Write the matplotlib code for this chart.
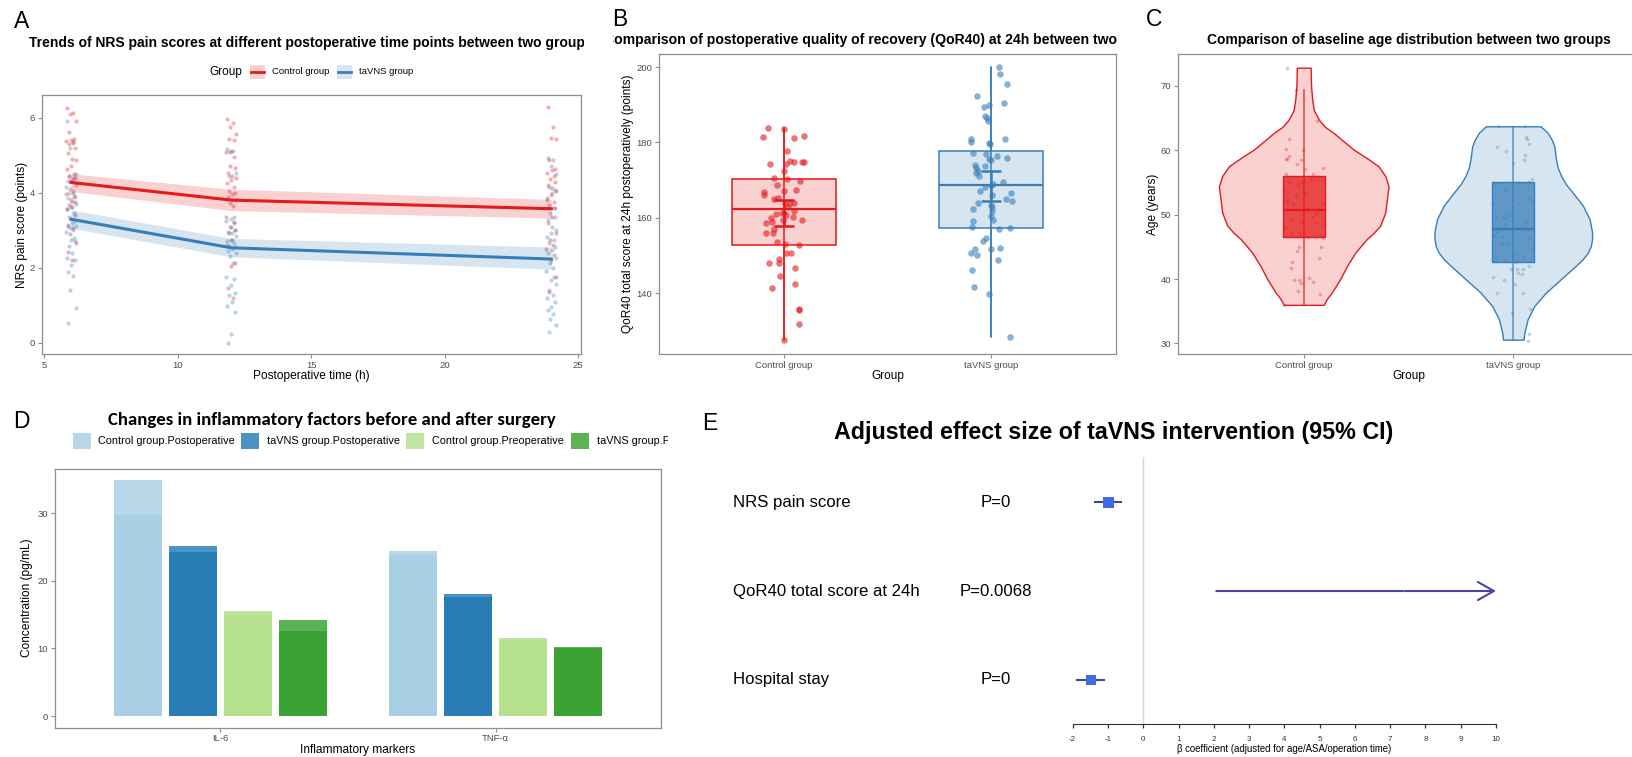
import numpy as np
import matplotlib
matplotlib.use('Agg')
import matplotlib.pyplot as plt
from matplotlib.patches import Rectangle
from matplotlib.colors import to_rgba
from matplotlib.transforms import Bbox, TransformedBbox, blended_transform_factory

W, H = 1632, 757
plt.rcParams['font.family'] = ['Liberation Sans', 'DejaVu Sans']
plt.rcParams['axes.unicode_minus'] = False
CALIB = ['Carlito', 'Lato', 'DejaVu Sans']

RED = '#E41A1C'
BLUE = '#377EB8'
GREY = '#4D4D4D'
groups = ['Control group', 'taVNS group']

# ---------- A: NRS pain score over time
times = [6, 12, 24]
nrs_ctrl_mean = [4.27, 3.80, 3.57]
nrs_ctrl_lo = [4.03, 3.52, 3.32]
nrs_ctrl_hi = [4.50, 4.09, 3.82]
nrs_tav_mean = [3.29, 2.53, 2.23]
nrs_tav_lo = [3.05, 2.29, 1.96]
nrs_tav_hi = [3.54, 2.78, 2.55]

nrs6_ctrl = [6.25, 6.12, 6.10, 5.90, 5.62, 5.42, 5.40, 5.38, 5.35, 5.30, 5.18, 5.05, 4.90, 4.88,
             4.72, 4.62, 4.50, 4.45, 4.40, 4.35, 4.30, 4.20, 4.10, 4.00, 3.95, 3.88, 3.80, 3.75,
             3.68, 3.62, 3.55, 3.40, 3.30, 3.10, 3.05, 2.90, 2.65, 2.42, 2.20]
nrs6_tav = [5.90, 5.33, 5.20, 4.50, 4.45, 4.40, 4.30, 4.15, 4.05, 3.98, 3.90, 3.85, 3.75, 3.70,
            3.62, 3.55, 3.45, 3.35, 3.25, 3.20, 3.15, 3.10, 3.05, 3.00, 2.95, 2.80, 2.75, 2.70,
            2.58, 2.40, 2.25, 2.20, 2.08, 1.88, 1.78, 1.40, 0.92, 0.52]
nrs12_ctrl = [5.96, 5.85, 5.75, 5.57, 5.42, 5.39, 5.12, 5.07, 4.94, 4.70, 4.65, 4.51, 4.43, 4.40,
              4.34, 4.25, 4.16, 4.03, 3.98, 3.95, 3.89, 3.80, 3.72, 3.63, 3.36, 3.22, 3.09, 3.00,
              2.92, 2.74, 2.60, 2.12, 2.05, 1.47, 1.18]
nrs12_tav = [5.16, 5.10, 5.07, 4.51, 4.43, 3.36, 3.30, 3.25, 3.18, 3.09, 3.00, 2.95, 2.92, 2.85,
             2.74, 2.70, 2.65, 2.58, 2.55, 2.50, 2.45, 2.38, 2.30, 2.12, 1.76, 1.69, 1.54, 1.32,
             1.27, 1.09, 0.97, 0.83, 0.24, 0.00]
nrs24_ctrl = [6.29, 5.74, 5.45, 5.42, 4.86, 4.63, 4.59, 4.52, 4.45, 4.36, 4.28, 4.20, 4.12, 4.03,
              3.94, 3.85, 3.75, 3.67, 3.58, 3.36, 3.18, 2.92, 2.75, 2.61, 2.50, 2.34, 2.21, 1.76, 1.36]
nrs24_tav = [4.92, 4.88, 4.70, 4.50, 4.16, 4.08, 3.98, 3.80, 3.58, 3.45, 3.36, 3.27, 3.09, 3.00,
             2.92, 2.83, 2.74, 2.65, 2.56, 2.47, 2.40, 2.25, 2.12, 1.98, 1.90, 1.76, 1.67, 1.56,
             1.41, 1.27, 1.18, 1.09, 0.95, 0.86, 0.77, 0.64, 0.46, 0.29]
# horizontal jitter (hours)
nrs_jit = [-0.14, 0.06, -0.03, 0.17, -0.09, 0.12, 0.01, -0.18, 0.09, -0.06, 0.15, -0.12, 0.04, 0.19,
           -0.01, -0.16, 0.10, -0.07, 0.13, 0.02, -0.11, 0.18, -0.04, 0.07, -0.19, 0.11, -0.02, 0.16,
           -0.08, 0.05, -0.15, 0.14, 0.00, -0.13, 0.08, -0.05, 0.17, -0.10, 0.03, 0.12, -0.17, 0.09]

# ---------- B: QoR40
qor_ctrl = [183.8, 183.5, 181.4, 181.1, 181.6, 177.6, 174.3, 174.2, 175.1, 174.8, 174.7, 174.7, 172.3,
            170.6, 170.4, 169.8, 168.7, 167.4, 166.8, 166.1, 167.0, 165.0, 165.2, 164.0, 163.8, 163.8,
            162.9, 161.7, 161.0, 161.3, 160.8, 160.2, 159.9, 159.5, 159.5, 158.5, 158.8, 156.9, 156.0,
            156.0, 153.5, 153.0, 152.7, 150.6, 150.6, 149.0, 147.9, 148.1, 146.6, 144.6, 142.5, 141.2,
            135.6, 135.7, 131.9, 127.5]
qor_ctrl_dx = [-0.074, 0.0, -0.1, 0.052, 0.096, 0.017, -0.065, 0.009, 0.031, 0.048, 0.086, 0.1, 0.003,
               -0.048, 0.017, 0.079, -0.034, 0.058, -0.093, -0.096, 0.0, -0.045, -0.026, 0.031, 0.048,
               0.007, 0.021, 0.052, -0.038, -0.007, 0.009, 0.045, -0.062, -0.003, 0.086, -0.086, -0.058,
               -0.045, -0.052, -0.086, -0.033, 0.007, 0.076, 0.034, 0.009, -0.022, -0.069, -0.024, 0.057,
               -0.017, 0.053, -0.057, 0.072, 0.076, 0.074, 0.0]
qor_tav = [199.9, 198.3, 195.5, 192.3, 190.4, 189.5, 190.0, 187.0, 186.4, 185.8, 180.9, 180.0, 181.0,
           179.8, 179.5, 177.1, 177.0, 176.3, 175.8, 175.7, 175.4, 174.0, 173.8, 173.3, 172.5, 171.0,
           171.9, 169.4, 169.0, 168.2, 167.2, 166.0, 166.6, 165.0, 164.5, 163.9, 163.5, 162.9, 162.2,
           161.8, 160.4, 159.5, 159.1, 157.4, 157.1, 157.2, 154.6, 153.7, 151.6, 150.5, 150.0, 151.8,
           152.0, 148.7, 146.0, 141.6, 139.7, 128.4]
qor_tav_dx = [0.036, 0.041, 0.076, -0.067, 0.06, -0.034, -0.012, -0.033, -0.021, -0.015, -0.096, -0.098,
              0.065, -0.009, -0.007, -0.088, -0.026, 0.028, 0.077, -0.01, -0.003, -0.079, -0.033, -0.072,
              -0.064, -0.06, -0.076, 0.055, 0.007, -0.033, -0.057, 0.005, 0.096, 0.07, 0.1, -0.062, -0.003,
              0.005, -0.086, 0.005, -0.003, 0.009, -0.086, -0.093, 0.036, 0.089, -0.028, -0.038, -0.077,
              -0.096, -0.067, -0.003, 0.04, 0.031, -0.093, -0.083, -0.01, 0.088]
qor_box = [dict(q1=152.8, med=162.3, q3=170.4, whislo=127.5, whishi=183.8),
           dict(q1=157.3, med=168.8, q3=177.6, whislo=128.4, whishi=199.9)]
qor_mean = [161.2, 168.5]
qor_ci_lo = [157.8, 164.5]
qor_ci_hi = [164.6, 172.4]

# ---------- C: age
age_ctrl = [72.8, 69.4, 64.5, 61.7, 60.2, 60.1, 59.1, 58.6, 58.7, 58.5, 57.8, 57.3, 57.0, 56.3, 56.3,
            55.6, 55.9, 54.9, 54.8, 55.1, 53.8, 53.2, 52.9, 52.2, 51.6, 51.6, 51.0, 50.8, 50.3, 49.1,
            49.3, 48.9, 48.7, 48.6, 48.1, 49.6, 47.0, 47.2, 46.9, 46.6, 46.4, 45.0, 44.9, 44.4, 43.3,
            42.6, 41.7, 39.8, 39.8, 39.4, 40.2, 39.5, 38.1, 37.7, 36.0]
age_ctrl_dx = [-0.081, -0.038, 0.062, -0.07, -0.085, -0.002, -0.069, -0.086, -0.081, -0.013, -0.03, 0.094,
               0.008, -0.085, 0.043, 0.035, 0.062, -0.072, -0.026, -0.005, -0.094, 0.006, -0.038, -0.08,
               -0.049, 0.094, 0.014, 0.07, 0.059, 0.097, -0.057, -0.01, 0.059, 0.096, -0.091, 0.043,
               -0.057, -0.018, 0.078, 0.022, 0.091, -0.022, 0.083, -0.032, 0.072, -0.054, -0.062, -0.046,
               -0.022, -0.014, 0.024, 0.043, -0.029, 0.077, -0.096]
age_tav = [63.7, 63.7, 62.1, 61.7, 60.5, 61.0, 59.8, 59.3, 58.4, 58.0, 55.1, 55.5, 54.8, 54.9, 53.8,
           52.7, 51.9, 51.8, 51.6, 50.7, 49.9, 49.7, 49.4, 49.5, 48.9, 48.5, 47.8, 47.3, 46.7, 46.5,
           46.4, 45.6, 45.6, 44.6, 44.0, 43.3, 43.4, 43.1, 42.7, 42.0, 41.5, 41.5, 41.5, 41.0, 40.8,
           40.3, 39.8, 39.3, 37.9, 37.9, 35.3, 34.8, 31.4, 30.4]
age_tav_dx = [-0.075, 0.054, 0.061, 0.067, -0.08, 0.077, -0.035, 0.056, 0.051, 0.0, 0.073, 0.088, -0.088,
              0.026, -0.033, 0.075, 0.088, -0.099, 0.026, -0.086, -0.022, -0.048, -0.035, -0.083, 0.054,
              -0.04, 0.041, -0.078, -0.093, -0.054, 0.073, -0.054, -0.03, 0.093, 0.013, -0.083, 0.049,
              -0.04, 0.013, 0.077, -0.011, 0.016, 0.045, 0.022, 0.041, -0.099, -0.043, 0.006, -0.077,
              0.045, 0.08, -0.006, 0.073, 0.069]
# violin outline: age levels and half width (x units)
vio_ctrl_age = [72.8, 70.0, 68.0, 66.2, 64.7, 63.6, 62.7, 61.6, 60.1, 58.8, 57.5, 56.0, 54.4, 52.4, 50.3,
                48.3, 47.2, 46.2, 45.1, 44.1, 42.0, 40.0, 37.9, 36.9, 36.0]
vio_ctrl_hw = [0.033, 0.035, 0.040, 0.048, 0.073, 0.102, 0.142, 0.182, 0.238, 0.300, 0.357, 0.389, 0.405,
               0.397, 0.389, 0.365, 0.335, 0.301, 0.272, 0.246, 0.206, 0.174, 0.134, 0.110, 0.096]
vio_tav_age = [63.7, 62.7, 61.6, 60.6, 58.6, 57.3, 56.0, 54.7, 53.4, 51.4, 49.3, 47.3, 46.2, 45.1, 44.1,
               43.1, 42.1, 40.0, 37.9, 35.8, 33.8, 31.7, 30.6]
vio_tav_hw = [0.131, 0.164, 0.184, 0.196, 0.204, 0.212, 0.228, 0.252, 0.284, 0.332, 0.364, 0.376, 0.376,
              0.370, 0.356, 0.332, 0.300, 0.228, 0.156, 0.100, 0.069, 0.053, 0.049]
age_box = [dict(q1=46.6, med=50.7, q3=56.0, whislo=36.0, whishi=69.5),
           dict(q1=42.6, med=47.8, q3=55.0, whislo=30.6, whishi=63.7)]

# ---------- D: inflammatory factors
markers = ['IL-6', 'TNF-α']
series = ['Control group.Postoperative', 'taVNS group.Postoperative',
          'Control group.Preoperative', 'taVNS group.Preoperative']
il6_hi = [34.9, 25.1, 15.5, 14.2]
il6_lo = [29.7, 24.2, 14.9, 12.6]
tnf_hi = [24.4, 18.0, 11.5, 10.2]
tnf_lo = [23.9, 17.6, 11.3, 10.1]
PAIRED = ['#A6CEE3', '#1F78B4', '#B2DF8A', '#33A02C']

# ---------- E: forest plot
outcomes = ['NRS pain score', 'QoR40 total score at 24h', 'Hospital stay']
pvals = ['P=0', 'P=0.0068', 'P=0']
beta = [-0.99, 7.40, -1.48]
ci_lo = [-1.36, 2.07, -1.87]
ci_hi = [-0.62, 12.73, -1.10]

fig = plt.figure(figsize=(W / 100, H / 100), dpi=100)


def add_ax(l, t, r, b):
    return fig.add_axes([l / W, 1 - b / H, (r - l) / W, (b - t) / H])


def frame(ax):
    for s in ax.spines.values():
        s.set_color('#8F8F8F')
        s.set_linewidth(0.9)
    ax.tick_params(colors='#8F8F8F', labelcolor=GREY, labelsize=6.8, length=3, width=0.8, pad=2)


# ----- A
axA = add_ax(41.7, 95, 580.7, 354)
frame(axA)
clouds = [(nrs6_ctrl, nrs12_ctrl, nrs24_ctrl), (nrs6_tav, nrs12_tav, nrs24_tav)]
for col, cl in zip([RED, BLUE], clouds):
    for t, vals in zip(times, cl):
        axA.scatter(t + np.array(nrs_jit[:len(vals)]), vals, s=9, color=col, alpha=0.35, lw=0, zorder=2)
for col, m, lo, hi in [(RED, nrs_ctrl_mean, nrs_ctrl_lo, nrs_ctrl_hi),
                       (BLUE, nrs_tav_mean, nrs_tav_lo, nrs_tav_hi)]:
    axA.fill_between(times, lo, hi, color=col, alpha=0.2, lw=0, zorder=1)
    axA.plot(times, m, color=col, lw=2.2, zorder=3)
axA.set_xlim(4.90, 25.10)
axA.set_ylim(-0.30, 6.6)
axA.set_xticks([5, 10, 15, 20, 25])
axA.set_yticks([0, 2, 4, 6])

# ----- B
axB = add_ax(659, 54.3, 1116, 354)
frame(axB)
for i, (vals, dx, col) in enumerate([(qor_ctrl, qor_ctrl_dx, RED), (qor_tav, qor_tav_dx, BLUE)]):
    pos = i + 1
    axB.bxp([qor_box[i]], positions=[pos], widths=0.5, patch_artist=True, showcaps=False,
            showfliers=False, boxprops=dict(facecolor=to_rgba(col, 0.2), edgecolor=col, lw=1.1),
            medianprops=dict(color=col, lw=1.6), whiskerprops=dict(color=col, lw=1.1))
    axB.scatter(pos + np.array(dx), vals, s=22, color=col, alpha=0.6, lw=0, zorder=3)
    axB.vlines(pos, qor_box[i]['whislo'], qor_box[i]['whishi'], color=col, lw=1.1, zorder=4)
    axB.errorbar(pos, qor_mean[i], yerr=[[qor_mean[i] - qor_ci_lo[i]], [qor_ci_hi[i] - qor_mean[i]]],
                 fmt='o', ms=2.5, color=col, capsize=7.4, lw=1.8, capthick=1.8, zorder=5)
axB.set_xlim(0.4, 2.6)
axB.set_ylim(123.8, 203.4)
axB.set_xticks([1, 2])
axB.set_xticklabels(groups)
axB.set_yticks([140, 160, 180, 200])

# ----- C
axC = add_ax(1178, 54, 1639, 354)
frame(axC)
vios = [(vio_ctrl_age, vio_ctrl_hw), (vio_tav_age, vio_tav_hw)]
for i, (vals, dx, col) in enumerate([(age_ctrl, age_ctrl_dx, RED), (age_tav, age_tav_dx, BLUE)]):
    pos = i + 1
    va, hw = np.array(vios[i][0]), np.array(vios[i][1])
    axC.fill_betweenx(va, pos - hw, pos + hw, facecolor=to_rgba(col, 0.2), edgecolor=col, lw=1.0, zorder=1)
    axC.vlines(pos, age_box[i]['whislo'], age_box[i]['whishi'], color=col, lw=1.1, alpha=0.8, zorder=2)
    axC.bxp([age_box[i]], positions=[pos], widths=0.2, patch_artist=True, showcaps=False,
            showfliers=False, whiskerprops=dict(linestyle='none'),
            boxprops=dict(facecolor=to_rgba(col, 0.75), edgecolor=col, lw=1.0),
            medianprops=dict(color=col, lw=1.6), zorder=3)
    axC.scatter(pos + np.array(dx), vals, s=7, color=col, alpha=0.3, lw=0, zorder=4)
axC.set_xlim(0.4, 2.6)
axC.set_ylim(28.37, 74.92)
axC.set_xticks([1, 2])
axC.set_xticklabels(groups)
axC.set_yticks([30, 40, 50, 60, 70])

# ----- D
axD = add_ax(55, 468.5, 661, 727.5)
frame(axD)
xm = np.arange(1, len(markers) + 1)
for j, name in enumerate(series):
    off = (j - 1.5) * 0.2
    axD.bar(xm + off, [il6_hi[j], tnf_hi[j]], width=0.175, color=PAIRED[j], alpha=0.8, lw=0)
    axD.bar(xm + off, [il6_lo[j], tnf_lo[j]], width=0.175, color=PAIRED[j], alpha=0.8, lw=0)
axD.set_xlim(0.4, 2.6)
axD.set_ylim(-1.70, 36.63)
axD.set_xticks(xm)
axD.set_xticklabels(markers)
axD.set_yticks([0, 10, 20, 30])

# ----- E
NAVY = '#46469A'
axE = add_ax(1072.7, 456.7, 1496, 724)
rows = np.arange(len(outcomes), 0, -1)
axE.axvline(0, color='#D5D5D5', lw=1, zorder=0)
wmin = min(h - l for l, h in zip(ci_lo, ci_hi))
for y, b, lo, hi in zip(rows, beta, ci_lo, ci_hi):
    if hi > 10:
        axE.annotate('', xy=(10, y), xytext=(lo, y),
                     arrowprops=dict(arrowstyle='->,head_length=1.15,head_width=0.65', color=NAVY,
                                     lw=1.5, shrinkA=0, shrinkB=0, mutation_scale=10))
    else:
        axE.plot([lo, hi], [y, y], color=NAVY, lw=1.5)
    side = 11 * np.sqrt(wmin / (hi - lo))
    axE.plot(b, y, 's', ms=side * 0.72, color='#4169E1', mew=0, zorder=3)
axE.set_xlim(-2, 10)
axE.set_ylim(0.505, 3.51)
for s in ['top', 'left', 'right']:
    axE.spines[s].set_visible(False)
axE.spines['bottom'].set_color('#333333')
axE.set_yticks([])
axE.set_xticks(range(-2, 11))
axE.tick_params(axis='x', direction='out', length=3, width=0.9, colors='#333333', labelsize=5.8, pad=5.5)

# ----- overlay in pixel coordinates for titles, labels and legends
cv = fig.add_axes([0, 0, 1, 1], zorder=10)
cv.set_xlim(0, W)
cv.set_ylim(H, 0)
cv.axis('off')
cv.patch.set_alpha(0)
rend = fig.canvas.get_renderer()


def clip(t, x0, x1, y0=0, y1=H):
    bb = Bbox.from_extents(x0 / W, 1 - y1 / H, x1 / W, 1 - y0 / H)
    t.set_clip_box(TransformedBbox(bb, fig.transFigure))
    t.set_clip_on(True)


def fit(t, width):
    w = t.get_window_extent(rend).width
    t.set_fontsize(t.get_fontsize() * width / w)
    return t.get_fontsize()


# panel letters
for s, x, y in [('A', 22, 21), ('B', 619.5, 19.5), ('C', 1154, 19.5), ('D', 21.5, 422), ('E', 710, 423)]:
    cv.text(x, y, s, fontsize=16.5, ha='center', va='center')

# titles (A and B are cut by the panel edges, as in the original montage)
tC = cv.text(1408.7, 40, 'Comparison of baseline age distribution between two groups',
             fontsize=10, fontweight='bold', ha='center', va='center')
fit(tC, 405.7)
tA = cv.text(28.7, 43.3, 'Trends of NRS pain scores at different postoperative time points between two group',
             fontsize=10, fontweight='bold', ha='left', va='center')
fit(tA, 557.5)
tA.set_text(tA.get_text() + 's')
clip(tA, 0, 584)
tB = cv.text(614, 40, 'omparison of postoperative quality of recovery (QoR40) at 24h between two',
             fontsize=10, fontweight='bold', ha='left', va='center')
fsB = fit(tB, 504.6)
tmp = cv.text(0, 0, 'C', fontsize=fsB, fontweight='bold')
wc = tmp.get_window_extent(rend).width
tmp.remove()
tB.set_text('C' + tB.get_text() + ' groups')
tB.set_x(614 - wc)
clip(tB, 613, 1119)
tD = cv.text(331.6, 420, 'Changes in inflammatory factors before and after surgery',
             fontsize=13, fontweight='bold', ha='center', va='center', family=CALIB)
fit(tD, 447)
tE = cv.text(1114, 433, 'Adjusted effect size of taVNS intervention (95% CI)',
             fontsize=17, fontweight='bold', ha='center', va='center')
fit(tE, 558.6)

# axis titles
for s, x, y, rot in [('NRS pain score (points)', 22, 224.5, 90),
                     ('Postoperative time (h)', 311, 376, 0),
                     ('QoR40 total score at 24h postoperatively (points)', 628, 204, 90),
                     ('Group', 887.5, 376, 0),
                     ('Age (years)', 1153, 204, 90),
                     ('Group', 1408.7, 376, 0),
                     ('Concentration (pg/mL)', 27, 598, 90),
                     ('Inflammatory markers', 358, 750, 0)]:
    t = cv.text(x, y, s, fontsize=8.6, rotation=rot, ha='center', va='center')
    if y == 376:
        clip(t, 0, W, 0, 382)
cv.text(1284, 748.7, 'β coefficient (adjusted for age/ASA/operation time)', fontsize=6.9,
        ha='center', va='center')

# legend A
cv.text(209.7, 71.7, 'Group', fontsize=8.5, ha='left', va='center')
for (x0, col, lab) in [(249.5, RED, groups[0]), (336.8, BLUE, groups[1])]:
    cv.add_patch(Rectangle((x0, 65), 15.3, 14, fc=col, alpha=0.2, ec='none'))
    cv.plot([x0 + 1, x0 + 14.3], [72, 72], color=col, lw=2)
    cv.text(x0 + 22.2, 72, lab, fontsize=6.8, ha='left', va='center')

# legend D (cut at the panel edge)
for x0, col, lab in zip([72.7, 241, 406, 571], PAIRED, series):
    cv.add_patch(Rectangle((x0, 433), 18, 16, fc=col, alpha=0.8, ec='none'))
    t = cv.text(x0 + 25.7, 441, lab, fontsize=7.8, ha='left', va='center')
    clip(t, 0, 668)

# forest plot row labels
tr = blended_transform_factory(cv.transData, axE.transData)
row_texts = []
for y, lab, p in zip(rows, outcomes, pvals):
    row_texts.append(cv.text(733.4, y, lab, fontsize=13, ha='left', va='center', transform=tr))
    row_texts.append(cv.text(996, y, p, fontsize=13, ha='center', va='center', transform=tr))
rs = fit(row_texts[2], 186.4)
for t in row_texts:
    t.set_fontsize(rs)

fig.savefig('out.png', dpi=100)
